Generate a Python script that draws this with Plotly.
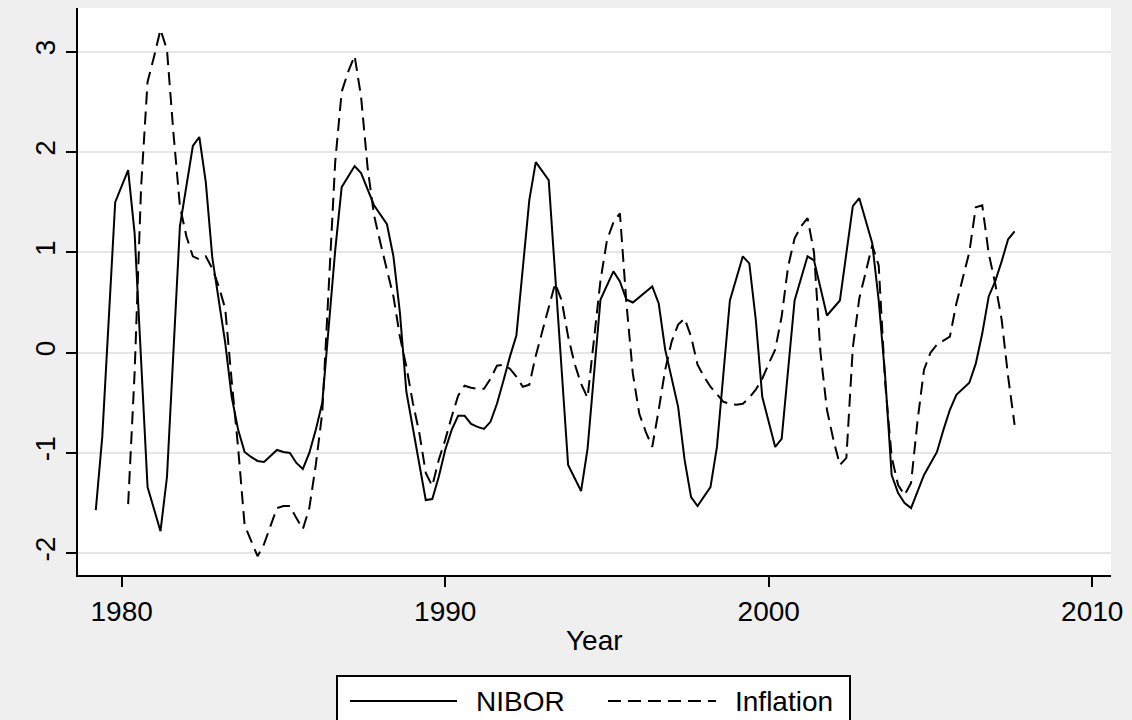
import plotly.graph_objects as go

# NIBOR (solid): turning points of the series, decimal year and value
NIBOR_YEAR = [
    1979.2, 1979.4, 1979.8, 1980.2, 1980.4, 1980.8, 1981.2, 1981.4, 1981.8,
    1982.2, 1982.4, 1982.6, 1982.8, 1983.0, 1983.2, 1983.4, 1983.6, 1983.8,
    1984.0, 1984.2, 1984.4, 1984.6, 1984.8, 1985.0, 1985.2, 1985.4, 1985.6,
    1985.8, 1986.0, 1986.2, 1986.4, 1986.6, 1986.8, 1987.2, 1987.4, 1987.8,
    1988.2, 1988.4, 1988.6, 1988.8, 1989.4, 1989.6, 1989.8, 1990.0, 1990.2,
    1990.4, 1990.6, 1990.8, 1991.0, 1991.2, 1991.4, 1991.6, 1991.8, 1992.0,
    1992.2, 1992.4, 1992.6, 1992.8, 1993.0, 1993.2, 1993.8, 1994.0, 1994.2,
    1994.4, 1994.8, 1995.2, 1995.4, 1995.6, 1995.8, 1996.4, 1996.6, 1996.8,
    1997.2, 1997.4, 1997.6, 1997.8, 1998.2, 1998.4, 1998.8, 1999.2, 1999.4,
    1999.6, 1999.8, 2000.2, 2000.4, 2000.8, 2001.2, 2001.4, 2001.8, 2002.2,
    2002.6, 2002.8, 2003.0, 2003.2, 2003.4, 2003.6, 2003.8, 2004.0, 2004.2,
    2004.4, 2004.8, 2005.2, 2005.4, 2005.6, 2005.8, 2006.2, 2006.4, 2006.6,
    2006.8, 2007.0, 2007.2, 2007.4, 2007.6,
]
NIBOR = [
    -1.57, -0.84, 1.50, 1.82, 1.19, -1.34, -1.78, -1.24, 1.26,
    2.06, 2.15, 1.70, 0.95, 0.52, 0.10, -0.44, -0.77, -0.99,
    -1.04, -1.08, -1.09, -1.03, -0.97, -0.99, -1.00, -1.10, -1.16,
    -1.00, -0.77, -0.50, 0.26, 1.02, 1.65, 1.86, 1.79, 1.47,
    1.28, 0.96, 0.40, -0.39, -1.47, -1.46, -1.24, -0.97, -0.77,
    -0.63, -0.63, -0.71, -0.74, -0.76, -0.69, -0.51, -0.28, -0.04,
    0.17, 0.85, 1.52, 1.90, 1.81, 1.72, -1.12, -1.25, -1.38,
    -0.96, 0.53, 0.81, 0.71, 0.53, 0.50, 0.66, 0.49, 0.03,
    -0.54, -1.07, -1.44, -1.53, -1.34, -0.94, 0.52, 0.96, 0.89,
    0.33, -0.44, -0.94, -0.86, 0.52, 0.96, 0.92, 0.37, 0.52,
    1.46, 1.54, 1.31, 1.09, 0.52, -0.24, -1.22, -1.40, -1.50,
    -1.55, -1.22, -0.99, -0.77, -0.57, -0.42, -0.30, -0.11, 0.19,
    0.56, 0.71, 0.91, 1.13, 1.21,
]

# Inflation (dashed)
INFL_YEAR = [
    1980.2, 1980.4, 1980.6, 1980.8, 1981.0, 1981.2, 1981.4, 1981.6, 1981.8,
    1982.0, 1982.2, 1982.4, 1982.6, 1982.8, 1983.0, 1983.2, 1983.4, 1983.6,
    1983.8, 1984.0, 1984.2, 1984.4, 1984.6, 1984.8, 1985.0, 1985.2, 1985.4,
    1985.6, 1985.8, 1986.0, 1986.2, 1986.4, 1986.6, 1986.8, 1987.0, 1987.2,
    1987.4, 1987.6, 1987.8, 1988.0, 1988.2, 1988.4, 1988.6, 1988.8, 1989.0,
    1989.2, 1989.4, 1989.6, 1989.8, 1990.0, 1990.2, 1990.4, 1990.6, 1990.8,
    1991.0, 1991.2, 1991.4, 1991.6, 1991.8, 1992.0, 1992.2, 1992.4, 1992.6,
    1992.8, 1993.0, 1993.2, 1993.4, 1993.6, 1993.8, 1994.0, 1994.2, 1994.4,
    1994.6, 1994.8, 1995.0, 1995.2, 1995.4, 1995.6, 1995.8, 1996.0, 1996.2,
    1996.4, 1996.6, 1996.8, 1997.0, 1997.2, 1997.4, 1997.6, 1997.8, 1998.0,
    1998.2, 1998.4, 1998.6, 1998.8, 1999.0, 1999.2, 1999.4, 1999.6, 1999.8,
    2000.0, 2000.2, 2000.4, 2000.6, 2000.8, 2001.0, 2001.2, 2001.4, 2001.6,
    2001.8, 2002.0, 2002.2, 2002.4, 2002.6, 2002.8, 2003.0, 2003.2, 2003.4,
    2003.6, 2003.8, 2004.0, 2004.2, 2004.4, 2004.6, 2004.8, 2005.0, 2005.2,
    2005.4, 2005.6, 2005.8, 2006.0, 2006.2, 2006.4, 2006.6, 2006.8, 2007.0,
    2007.2, 2007.4, 2007.6,
]
INFLATION = [
    -1.51, -0.20, 1.65, 2.70, 2.95, 3.22, 3.02, 2.19, 1.46,
    1.16, 0.96, 0.93, 0.96, 0.84, 0.66, 0.44, -0.28, -0.95,
    -1.72, -1.88, -2.03, -1.91, -1.74, -1.55, -1.53, -1.53, -1.65,
    -1.76, -1.55, -1.12, -0.60, 0.60, 1.90, 2.60, 2.80, 2.96,
    2.55, 1.85, 1.37, 1.09, 0.82, 0.56, 0.16, -0.14, -0.50,
    -0.80, -1.20, -1.33, -1.07, -0.87, -0.64, -0.43, -0.33, -0.35,
    -0.36, -0.36, -0.26, -0.13, -0.12, -0.16, -0.24, -0.34, -0.32,
    -0.03, 0.21, 0.44, 0.69, 0.52, 0.16, -0.11, -0.31, -0.45,
    0.15, 0.72, 1.12, 1.30, 1.39, 0.50, -0.21, -0.61, -0.79,
    -0.94, -0.57, -0.17, 0.11, 0.28, 0.34, 0.16, -0.12, -0.24,
    -0.34, -0.41, -0.49, -0.51, -0.52, -0.51, -0.45, -0.37, -0.26,
    -0.11, 0.03, 0.36, 0.86, 1.14, 1.26, 1.34, 1.00, 0.00,
    -0.57, -0.87, -1.12, -1.05, 0.05, 0.54, 0.80, 1.07, 0.87,
    -0.30, -1.04, -1.32, -1.42, -1.30, -0.68, -0.17, 0.00, 0.08,
    0.12, 0.16, 0.49, 0.76, 1.00, 1.45, 1.47, 0.99, 0.69,
    0.33, -0.24, -0.72,
]

X_TICKS = [1980, 1990, 2000, 2010]
Y_TICKS = [-2, -1, 0, 1, 2, 3]
SERIES_NAMES = ["NIBOR", "Inflation"]
X_TITLE = "Year"

FONT = "Liberation Sans, Arial, sans-serif"
DASH = "13px,7px"

fig = go.Figure()
fig.add_trace(go.Scatter(
    x=NIBOR_YEAR, y=NIBOR, mode="lines", name=SERIES_NAMES[0],
    line=dict(color="black", width=2), showlegend=False,
))
fig.add_trace(go.Scatter(
    x=INFL_YEAR, y=INFLATION, mode="lines", name=SERIES_NAMES[1],
    line=dict(color="black", width=2, dash=DASH), showlegend=False,
))

fig.update_layout(
    width=1132, height=720,
    margin=dict(l=78, r=21, t=8, b=145),
    paper_bgcolor="#EFEFEF",
    plot_bgcolor="white",
    font=dict(family=FONT, size=28, color="black"),
    xaxis=dict(
        range=[1978.65, 2010.58],
        tickmode="array", tickvals=X_TICKS,
        ticks="outside", ticklen=10, tickwidth=2, tickcolor="black",
        showline=True, linecolor="black", linewidth=2,
        showgrid=False, zeroline=False,
        tickfont=dict(size=28),
    ),
    yaxis=dict(
        range=[-2.217, 3.436],
        tickmode="array", tickvals=Y_TICKS,
        ticktext=[str(v) for v in Y_TICKS],
        tickangle=-90,
        ticks="outside", ticklen=10, tickwidth=2, tickcolor="black",
        showline=True, linecolor="black", linewidth=2,
        showgrid=True, gridcolor="#E6E6E6", gridwidth=2,
        zeroline=False,
        tickfont=dict(size=28),
    ),
)

# Axis title
fig.add_annotation(
    text=X_TITLE, xref="paper", yref="paper", x=0.5, y=-0.116,
    xanchor="center", yanchor="middle", showarrow=False,
    font=dict(size=28),
)

# Legend box below the plot, with long line keys
def px_x(p):
    return (p - 78) / 1033.0

def px_y(p):
    return (575 - p) / 567.0

fig.add_shape(
    type="rect", xref="paper", yref="paper",
    x0=px_x(337), x1=px_x(850), y0=px_y(676), y1=px_y(730),
    line=dict(color="black", width=2), fillcolor="white", layer="above",
)
key_y = px_y(701)
fig.add_shape(
    type="line", xref="paper", yref="paper",
    x0=px_x(350), x1=px_x(457), y0=key_y, y1=key_y,
    line=dict(color="black", width=2),
)
fig.add_shape(
    type="line", xref="paper", yref="paper",
    x0=px_x(608), x1=px_x(716), y0=key_y, y1=key_y,
    line=dict(color="black", width=2, dash=DASH),
)
fig.add_annotation(
    text=SERIES_NAMES[0], xref="paper", yref="paper", x=px_x(474), y=key_y,
    xanchor="left", yanchor="middle", showarrow=False, font=dict(size=28),
)
fig.add_annotation(
    text=SERIES_NAMES[1], xref="paper", yref="paper", x=px_x(733), y=key_y,
    xanchor="left", yanchor="middle", showarrow=False, font=dict(size=28),
)

fig.write_html("out.html")
